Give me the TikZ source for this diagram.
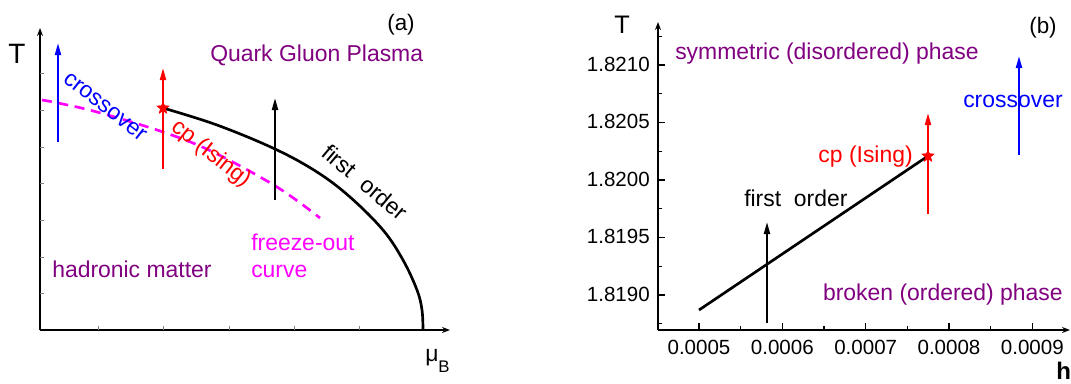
\documentclass[tikz,border=0pt]{standalone}
\usepackage{fontspec}
\setmainfont{Liberation Sans}
\usetikzlibrary{arrows.meta,shapes.geometric}
\definecolor{qpurple}{RGB}{128,0,128}
\definecolor{qmag}{RGB}{255,0,255}
\definecolor{qblue}{RGB}{0,0,255}
\definecolor{qred}{RGB}{255,0,0}
\begin{document}
\begin{tikzpicture}[x=0.75pt,y=-0.75pt,
  lbl/.style={inner sep=0pt,font=\fontsize{17.2}{20}\selectfont},
  ticklbl/.style={inner sep=0pt,font=\fontsize{15.4}{18}\selectfont},
  biglbl/.style={inner sep=0pt,font=\fontsize{20}{24}\selectfont},
  panellbl/.style={inner sep=0pt,font=\fontsize{16.8}{19}\selectfont},
  axisline/.style={line width=1.4pt,-{Stealth[length=6pt,width=4.5pt]}},
  parr/.style={line width=1.5pt,-{Triangle[length=9pt,width=4.5pt]}},
  tickmark/.style={line width=1pt},
  fainttick/.style={line width=0.6pt,gray},
  cpstar/.style={star,star points=5,star point ratio=2.4,fill=qred,draw=none,inner sep=0pt,minimum size=10.5pt},
  curveline/.style={line width=2pt,line join=round},
  freeze/.style={line width=2pt,qmag,dash pattern=on 7.5pt off 5pt}
]
\useasboundingbox (0,0) rectangle (1071,383);

% ================= panel (a) =================
\coordinate (aO) at (40,330);
\coordinate (aY) at (40,28);
\coordinate (aX) at (450,330);
\draw[axisline] (aO) -- (aY);
\draw[axisline] (aO) -- (aX);
\foreach \yy in {73,110,147,183,220,257,293} \draw[fainttick] (40,\yy) -- (44,\yy);
\foreach \xx in {98,163,229,294,359} \draw[fainttick] (\xx,330) -- (\xx,326);

\node[biglbl,font=\fontsize{21}{24}\selectfont,anchor=base] (aT) at (17,63) {T};
\node[lbl,anchor=base west] (muB) at (425,361) {μ};
\node[inner sep=0pt,font=\fontsize{12.6}{14}\selectfont,anchor=base west] (muBsub) at (438,372) {B};
\node[panellbl,anchor=base] (alab) at (401,30) {(a)};
\node[lbl,anchor=base west,text=qpurple] (qgp) at (210,61) {Quark Gluon Plasma};
\node[lbl,anchor=base west,text=qpurple] (had) at (52,277) {hadronic matter};
\node[lbl,anchor=base west,text=qmag] (fo1) at (251,250) {freeze-out};
\node[lbl,anchor=base west,text=qmag] (fo2) at (251,277) {curve};

% freeze-out curve
\draw[freeze] plot[smooth,tension=0.6] coordinates {(42,100) (58,103) (97,112) (163,132) (213,152) (277,187) (320,218)};

% first order curve
\node[cpstar] (astar) at (163,108) {};
\draw[curveline] plot[smooth,tension=0.6] coordinates {(163,108) (217,125) (275,149) (317,172) (350,197) (383,230) (403,260) (417,290) (422,310) (423,330)};

% arrows
\coordinate (ab1) at (58,142); \coordinate (at1) at (58,43);
\coordinate (ab2) at (163,169); \coordinate (at2) at (163,68);
\coordinate (ab3) at (275,200); \coordinate (at3) at (275,98);
\draw[parr,qblue] (ab1) -- (at1);
\draw[parr,qred] (ab2) -- (at2);
\draw[parr,black] (ab3) -- (at3);
\node[cpstar] at (163,108) {};

\node[lbl,text=qblue,rotate=-38] (across) at (105,107) {crossover};
\node[lbl,text=qred,rotate=-38] (acp) at (211,154) {cp (Ising)};
\node[lbl,rotate=-40] (afo) at (365,182) {first\ \ order};

% ================= panel (b) =================
\coordinate (bO) at (658,330);
\coordinate (bY) at (658,22);
\coordinate (bX) at (1070,330);
\draw[axisline] (bO) -- (bY);
\draw[axisline] (bO) -- (bX);
\foreach \yy/\lab in {65/1.8210,122.5/1.8205,180/1.8200,237.5/1.8195,295/1.8190} {
  \draw[tickmark] (658,\yy) -- (665,\yy);
  \node[ticklbl,anchor=east] at (650,\yy-1) {\lab};
}
\foreach \yy in {36.25,93.75,151.25,208.75,266.25,323.75} \draw[tickmark] (658,\yy) -- (662,\yy);
\foreach \xx/\lab in {699/0.0005,782.3/0.0006,865.7/0.0007,949/0.0008,1032.3/0.0009} {
  \draw[tickmark] (\xx,330) -- (\xx,323);
  \node[ticklbl] at (\xx,347) {\lab};
}
\foreach \xx in {740.7,824,907.3,990.7} \draw[tickmark] (\xx,330) -- (\xx,326);

\node[biglbl,font=\fontsize{19}{22}\selectfont,anchor=base] (bT) at (622,33) {T};
\node[inner sep=0pt,font=\fontsize{18}{20}\selectfont\bfseries,anchor=north west] (bh) at (1056,362) {h};
\node[panellbl,anchor=base] (blab) at (1043,33) {(b)};
\node[lbl,anchor=base west,text=qpurple] (sym) at (675,59) {symmetric (disordered) phase};
\node[lbl,anchor=base east,text=qpurple] (brk) at (1063,300) {broken (ordered) phase};

\coordinate (bstart) at (699,310);
\node[cpstar] (bstar) at (928,156) {};
\draw[curveline] (bstart) -- (bstar.center);

\coordinate (bb1) at (1019,155); \coordinate (bt1) at (1019,56);
\coordinate (bb2) at (928,214); \coordinate (bt2) at (928,113);
\coordinate (bb3) at (767,323); \coordinate (bt3) at (767,222);
\draw[parr,qblue] (bb1) -- (bt1);
\draw[parr,qred] (bb2) -- (bt2);
\draw[parr,black] (bb3) -- (bt3);
\node[cpstar] at (928,156) {};

\node[lbl,anchor=base west,text=qblue] (bcross) at (963,107) {crossover};
\node[lbl,anchor=base east,text=qred] (bcp) at (913,162) {cp (Ising)};
\node[lbl,anchor=base west] (bfo) at (744,206) {first\ \ order};
\end{tikzpicture}
\end{document}
